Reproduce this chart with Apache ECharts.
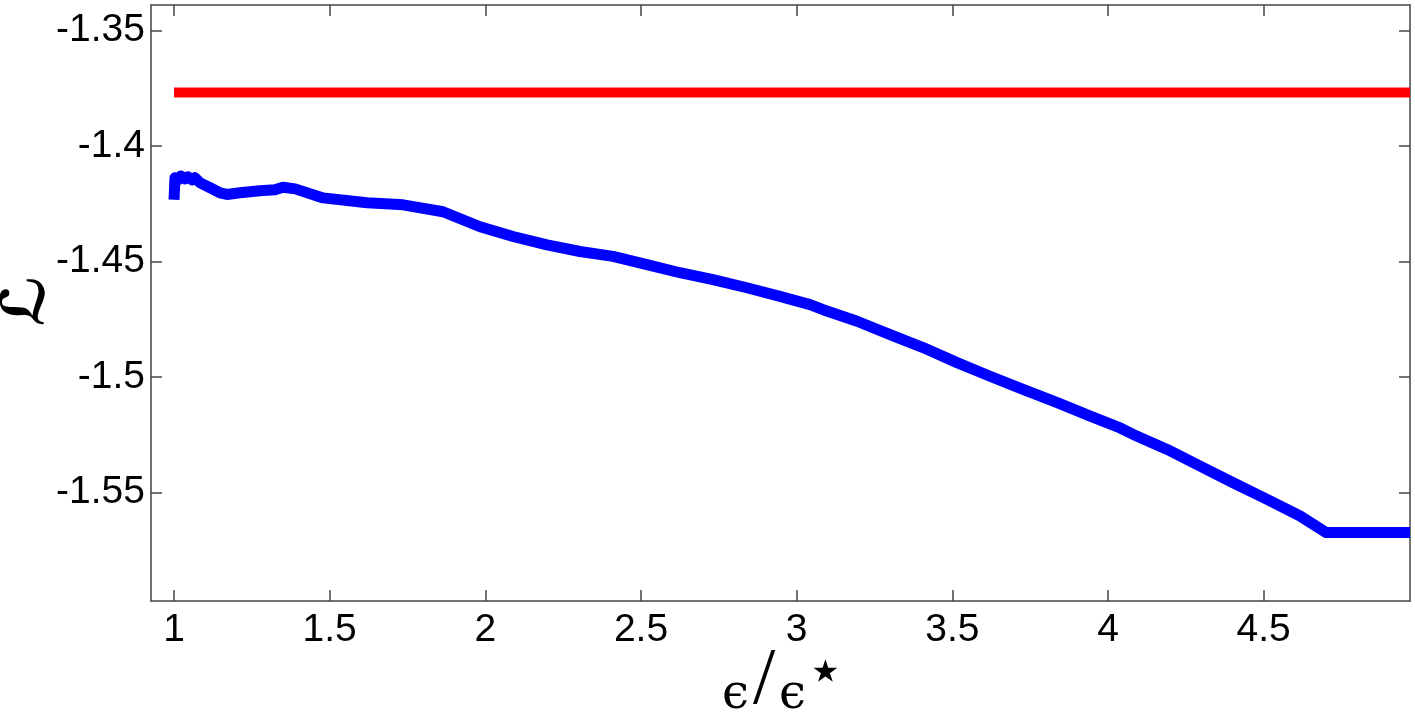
<!DOCTYPE html>
<html>
<head>
<meta charset="utf-8">
<script src="https://cdn.jsdelivr.net/npm/echarts@6/dist/echarts.min.js"></script>
<style>html,body{margin:0;padding:0;background:#fff}#c{width:1415px;height:718px}</style>
</head>
<body>
<div id="c"></div>
<script>
const xTicks = [1, 1.5, 2, 2.5, 3, 3.5, 4, 4.5];
const yTicks = [-1.55, -1.5, -1.45, -1.4, -1.35];
const redX = [1, 4.97];
const redY = [-1.3769, -1.3769];
const blueX = [1.000,1.003,1.013,1.022,1.035,1.045,1.058,1.067,1.084,1.116,1.148,1.170,1.212,1.276,1.324,1.350,1.389,1.479,1.620,1.736,1.864,1.983,2.089,2.198,2.304,2.410,2.519,2.625,2.731,2.840,2.946,3.043,3.085,3.194,3.300,3.406,3.515,3.621,3.727,3.837,3.943,4.039,4.081,4.190,4.296,4.402,4.511,4.617,4.701,4.970];
const blueY = [-1.4233,-1.4138,-1.4147,-1.4130,-1.4143,-1.4134,-1.4147,-1.4138,-1.4160,-1.4181,-1.4203,-1.4210,-1.4203,-1.4194,-1.4190,-1.4179,-1.4186,-1.4225,-1.4246,-1.4255,-1.4285,-1.4350,-1.4392,-1.4428,-1.4457,-1.4478,-1.4514,-1.4549,-1.4579,-1.4614,-1.4651,-1.4687,-1.4709,-1.4759,-1.4817,-1.4873,-1.4938,-1.4997,-1.5054,-1.5111,-1.5170,-1.5221,-1.5249,-1.5314,-1.5386,-1.5458,-1.5530,-1.5602,-1.5674,-1.5674];

const chart = echarts.init(document.getElementById('c'));
const axisColor = '#444';
const labelFont = {fontFamily: 'Liberation Sans, Arial, sans-serif', fontSize: 39, color: '#000'};
const xMin = 0.926, xMax = 4.97, yMin = -1.597, yMax = -1.339;
function xAx(pos, showLabel) {
  return {
    type: 'value', position: pos, min: xMin, max: xMax,
    axisLine: {show: true, onZero: false, lineStyle: {color: axisColor, width: 1.5}},
    axisTick: {show: true, inside: true, length: 11, customValues: xTicks, lineStyle: {color: axisColor, width: 1.5}},
    axisLabel: Object.assign({show: showLabel, customValues: xTicks, margin: 10, formatter: v => String(v)}, labelFont),
    splitLine: {show: false}
  };
}
function yAx(pos, showLabel) {
  return {
    type: 'value', position: pos, min: yMin, max: yMax,
    axisLine: {show: true, onZero: false, lineStyle: {color: axisColor, width: 1.5}},
    axisTick: {show: true, inside: true, length: 11, customValues: yTicks, lineStyle: {color: axisColor, width: 1.5}},
    axisLabel: Object.assign({show: showLabel, customValues: yTicks, margin: 6, formatter: v => String(v)}, labelFont),
    splitLine: {show: false}
  };
}
chart.setOption({
  animation: false,
  backgroundColor: '#fff',
  grid: {left: 151, right: 5, top: 5, bottom: 117, containLabel: false},
  xAxis: [xAx('bottom', true), xAx('top', false)],
  yAxis: [yAx('left', true), yAx('right', false)],
  series: [
    {type: 'line', data: redX.map((x, i) => [x, redY[i]]), showSymbol: false, symbol: 'none',
     lineStyle: {color: '#ff0000', width: 10, cap: 'butt'}},
    {type: 'line', data: blueX.map((x, i) => [x, blueY[i]]), showSymbol: false, symbol: 'none',
     lineStyle: {color: '#0000ff', width: 11, cap: 'butt', join: 'round'}}
  ],
  graphic: [
    {type: 'text', left: 722, top: 642, z: 10,
     style: {
       text: '{e|ϵ}{s|/}{e|ϵ}{sup|⋆}',
       rich: {
         e: {fontFamily: 'DejaVu Serif', fontSize: 48, fill: '#000', verticalAlign: 'bottom', lineHeight: 76},
         s: {fontFamily: 'Liberation Serif', fontSize: 80, fill: '#000', lineHeight: 76, padding: [0, 4, 0, 4]},
         sup: {fontFamily: 'DejaVu Sans', fontSize: 62, fill: '#000', verticalAlign: 'top', lineHeight: 76, padding: [0, 0, 44, 0]}
       }
     }},
    {type: 'text', x: 28, y: 301, rotation: Math.PI / 2, z: 10,
     style: {text: 'ℒ', fontFamily: 'DejaVu Sans', fontSize: 60, fontWeight: 'bold', fill: '#000', align: 'center', verticalAlign: 'middle'}}
  ]
});
</script>
</body>
</html>
